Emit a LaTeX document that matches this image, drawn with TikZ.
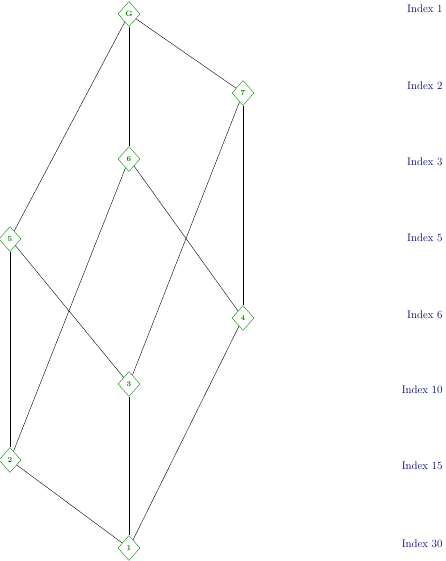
\documentclass[tikz,border=0pt]{standalone}
\usepackage{xcolor}
\usetikzlibrary{shapes.geometric}
\definecolor{subgroup}{RGB}{0,140,0}
\definecolor{indexcol}{RGB}{0,0,120}
\tikzstyle{node}=[diamond, draw=subgroup, fill=white, minimum width=22pt, minimum height=25pt, inner sep=0pt, text=subgroup, font=\fontsize{7.5}{8}\selectfont\bfseries]
\tikzstyle{index}=[anchor=east, text=indexcol, font=\fontsize{11}{13}\selectfont]

\begin{document}
\begin{tikzpicture}[x=1pt,y=-1pt]
  \useasboundingbox (0,0) rectangle (446,561);
  \draw (129,14) node[node] (G) {G};
  \draw (243,93) node[node] (S7) {7};
  \draw (129,159) node[node] (S6) {6};
  \draw (10,239) node[node] (S5) {5};
  \draw (243,318) node[node] (S4) {4};
  \draw (129,384) node[node] (S3) {3};
  \draw (10,460) node[node] (S2) {2};
  \draw (129,548) node[node] (S1) {1};

  \draw (G) -- (S7);
  \draw (G) -- (S6);
  \draw (G) -- (S5);
  \draw (S7) -- (S4);
  \draw (S7) -- (S3);
  \draw (S6) -- (S4);
  \draw (S6) -- (S2);
  \draw (S5) -- (S3);
  \draw (S5) -- (S2);
  \draw (S4) -- (S1);
  \draw (S3) -- (S1);
  \draw (S2) -- (S1);

  %% Index column
  \draw (446,9) node[index] (I1) {Index 1};
  \draw (446,86) node[index] (I2) {Index 2};
  \draw (446,162) node[index] (I3) {Index 3};
  \draw (446,238) node[index] (I5) {Index 5};
  \draw (446,315) node[index] (I6) {Index 6};
  \draw (446,390) node[index] (I10) {Index 10};
  \draw (446,466) node[index] (I15) {Index 15};
  \draw (446,544) node[index] (I30) {Index 30};
\end{tikzpicture}
\end{document}
